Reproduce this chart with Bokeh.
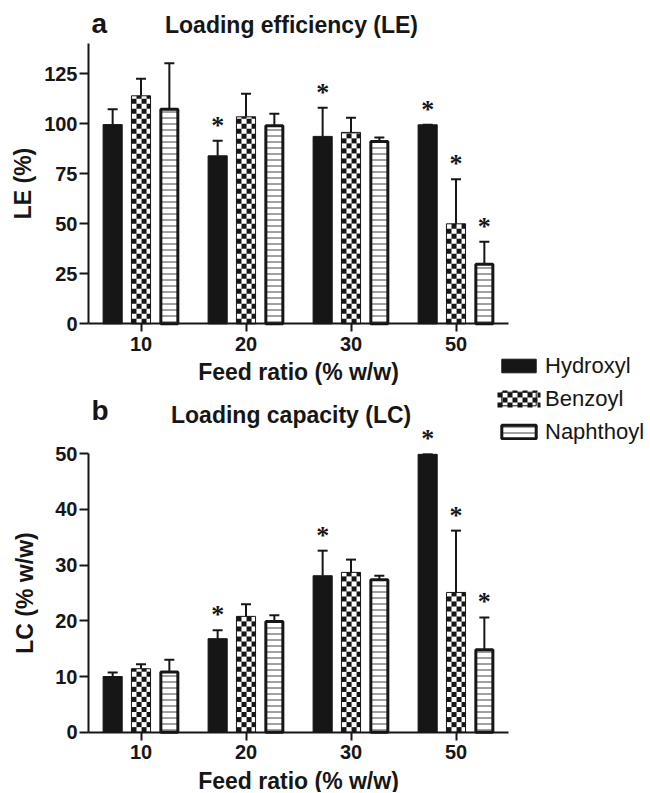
import numpy as np

from bokeh.plotting import figure
from bokeh.models import (Range1d, LinearAxis, Whisker, TeeHead, LabelSet, Label,
                          Legend, LegendItem, ColumnDataSource, FixedTicker)
from bokeh.transform import dodge
from bokeh.embed import file_html
from bokeh.resources import INLINE

# ---------------- data ----------------
feed_ratios = ["10", "20", "30", "50"]
series = ["Hydroxyl", "Benzoyl", "Naphthoyl"]

le_hydroxyl = [99.6, 84.0, 93.7, 99.5]
le_hydroxyl_err = [7.7, 7.5, 14.3, 0.0]
le_benzoyl = [114.0, 103.5, 95.7, 50.0]
le_benzoyl_err = [8.5, 11.5, 7.3, 22.3]
le_naphthoyl = [107.3, 99.0, 91.2, 29.8]
le_naphthoyl_err = [23.0, 6.0, 2.0, 11.2]
le_hydroxyl_sig = [False, True, True, True]
le_benzoyl_sig = [False, False, False, True]
le_naphthoyl_sig = [False, False, False, True]

lc_hydroxyl = [10.0, 16.8, 28.1, 49.9]
lc_hydroxyl_err = [0.7, 1.5, 4.5, 0.0]
lc_benzoyl = [11.4, 20.8, 28.7, 25.1]
lc_benzoyl_err = [0.8, 2.2, 2.3, 11.1]
lc_naphthoyl = [10.8, 19.9, 27.4, 14.8]
lc_naphthoyl_err = [2.2, 1.1, 0.7, 5.8]
lc_hydroxyl_sig = [False, True, True, True]
lc_benzoyl_sig = [False, False, False, True]
lc_naphthoyl_sig = [False, False, False, True]

le_ticks = [0, 25, 50, 75, 100, 125]
lc_ticks = [0, 10, 20, 30, 40, 50]
le_max = 140
lc_max = 50

# ---------------- layout (pixels) ----------------
FIG_W, FIG_H = 648, 792
AXIS_X_PX = 88          # x position of the y axes
PX_PER_X = 105          # one feed-ratio group
LE_ZERO_PX, PX_PER_LE = 323.3, 2.0
LC_ZERO_PX, PX_PER_LC = 731.7, 5.568

X_START = -0.5 - AXIS_X_PX / PX_PER_X
X_END = X_START + FIG_W / PX_PER_X
LE_END = LE_ZERO_PX / PX_PER_LE
LE_START = LE_END - FIG_H / PX_PER_LE
LC_END = LC_ZERO_PX / PX_PER_LC
LC_START = LC_END - FIG_H / PX_PER_LC

LEG_X, LEG_BOTTOM = 497, 444.5
LEG_GLYPH_W, LEG_GLYPH_H, LEG_ITEM_H, LEG_SPACING = 43, 17, 26, 7


def fx(px):
    return X_START + px / PX_PER_X


def fy(py):
    return LE_END - py / PX_PER_LE


# ---------------- styles ----------------
INK = "#161616"
FONT = "Liberation Sans"
CELL = 5


def checker_image(h_px, w_px, cell=CELL):
    yy, xx = np.mgrid[0:h_px, 0:w_px]
    on = ((yy // cell) + (xx // cell)) % 2 == 0
    rgba = np.full((h_px, w_px, 4), 255, dtype=np.uint8)
    rgba[on, 0:3] = 22
    return rgba.view(np.uint32).reshape(h_px, w_px)


STYLES = {
    "Hydroxyl": dict(fill_color=INK, line_color=INK, line_width=1),
    "Benzoyl": dict(fill_color="white", fill_alpha=0, line_color=INK, line_width=1),
    "Naphthoyl": dict(fill_color="white", line_color=INK, line_width=3,
                      hatch_pattern="-", hatch_color="#444444", hatch_scale=6, hatch_weight=1),
}
OFFSETS = {"Hydroxyl": -0.27, "Benzoyl": 0.0, "Naphthoyl": 0.27}
WIDTHS = {"Hydroxyl": 0.182, "Benzoyl": 0.182, "Naphthoyl": 0.162}

x_index = list(range(len(feed_ratios)))

p = figure(width=FIG_W, height=FIG_H, x_range=Range1d(X_START, X_END),
           y_range=Range1d(LE_START, LE_END), x_axis_type=None, y_axis_type=None,
           min_border=0, output_backend="svg", toolbar_location=None)
p.extra_y_ranges = {"lc": Range1d(LC_START, LC_END)}
p.outline_line_color = None


def style_axis(ax, tick_out, label_standoff):
    ax.axis_line_width = 2
    ax.axis_line_color = INK
    ax.major_tick_line_width = 2
    ax.major_tick_line_color = INK
    ax.major_tick_in = 0
    ax.major_tick_out = tick_out
    ax.minor_tick_line_color = None
    ax.major_label_text_font = FONT
    ax.major_label_text_font_size = "20px"
    ax.major_label_text_font_style = "bold"
    ax.major_label_text_color = INK
    ax.axis_label_text_font = FONT
    ax.axis_label_text_font_size = "23px"
    ax.axis_label_text_font_style = "bold"
    ax.axis_label_text_color = INK
    ax.axis_label_standoff = label_standoff


def panel(range_name, px_per_unit, y_max, y_ticks, ylabel, y_label_standoff,
          values, errors, signif):
    rends = {}
    for name in series:
        off = OFFSETS[name]
        top = values[name]
        err = errors[name]
        src = ColumnDataSource(dict(x=x_index, top=top,
                                    upper=[t + e for t, e in zip(top, err)]))
        if name == "Benzoyl":
            # checkerboard fill, drawn as an image inside each bar
            w = WIDTHS[name]
            img_src = ColumnDataSource(dict(
                image=[checker_image(max(1, int(round(t * px_per_unit))),
                                     int(round(w * PX_PER_X))) for t in top],
                x=[i + off - w / 2 for i in x_index], y=[0] * len(top),
                dw=[w] * len(top), dh=top))
            p.image_rgba(image="image", x="x", y="y", dw="dw", dh="dh", source=img_src,
                         y_range_name=range_name, level="underlay")
        r = p.vbar(x=dodge("x", off), top="top", bottom=0, width=WIDTHS[name],
                   source=src, y_range_name=range_name, **STYLES[name])
        rends[name] = r
        p.add_layout(Whisker(source=src, base=dodge("x", off), lower="top", upper="upper",
                             y_range_name=range_name, line_color=INK, line_width=2,
                             upper_head=TeeHead(size=10, line_color=INK, line_width=2),
                             lower_head=None))
        rows = [i for i, s in enumerate(signif[name]) if s]
        star_src = ColumnDataSource(dict(x=[x_index[i] for i in rows],
                                         y=[top[i] + err[i] for i in rows],
                                         mark=["*"] * len(rows)))
        p.add_layout(LabelSet(source=star_src, x=dodge("x", off), y="y", text="mark",
                              y_range_name=range_name, text_align="center",
                              text_baseline="alphabetic", y_offset=7,
                              text_font=FONT, text_font_size="26px",
                              text_font_style="bold", text_color=INK))

    yaxis = LinearAxis(y_range_name=range_name, fixed_location=-0.5, bounds=(0, y_max),
                       ticker=FixedTicker(ticks=y_ticks), axis_label=ylabel)
    style_axis(yaxis, 9, y_label_standoff)
    yaxis.major_label_standoff = 2
    p.add_layout(yaxis, "left")

    xaxis = LinearAxis(y_range_name=range_name, fixed_location=0,
                       bounds=(-0.5, len(feed_ratios) - 0.5),
                       ticker=FixedTicker(ticks=x_index),
                       major_label_overrides={i: r for i, r in zip(x_index, feed_ratios)},
                       axis_label="Feed ratio (% w/w)")
    style_axis(xaxis, 8, 5)
    xaxis.major_label_standoff = 5
    p.add_layout(xaxis, "below")
    return rends


le_r = panel("default", PX_PER_LE, le_max, le_ticks, "LE (%)", 5,
             {"Hydroxyl": le_hydroxyl, "Benzoyl": le_benzoyl, "Naphthoyl": le_naphthoyl},
             {"Hydroxyl": le_hydroxyl_err, "Benzoyl": le_benzoyl_err, "Naphthoyl": le_naphthoyl_err},
             {"Hydroxyl": le_hydroxyl_sig, "Benzoyl": le_benzoyl_sig, "Naphthoyl": le_naphthoyl_sig})
lc_r = panel("lc", PX_PER_LC, lc_max, lc_ticks, "LC (% w/w)", 14,
             {"Hydroxyl": lc_hydroxyl, "Benzoyl": lc_benzoyl, "Naphthoyl": lc_naphthoyl},
             {"Hydroxyl": lc_hydroxyl_err, "Benzoyl": lc_benzoyl_err, "Naphthoyl": lc_naphthoyl_err},
             {"Hydroxyl": lc_hydroxyl_sig, "Benzoyl": lc_benzoyl_sig, "Naphthoyl": lc_naphthoyl_sig})

# panel letters and titles
for text, px, py, size in [("a", 91, 23, "28px"), ("Loading efficiency (LE)", 164.5, 24, "23px"),
                           ("b", 91, 410, "28px"), ("Loading capacity (LC)", 170.5, 414, "23px")]:
    p.add_layout(Label(x=fx(px), y=fy(py), text=text, text_font=FONT, text_font_size=size,
                       text_font_style="bold", text_color=INK, text_baseline="alphabetic"))

# legend
legend = Legend(items=[LegendItem(label=n, renderers=[le_r[n]]) for n in series],
                location=(LEG_X, FIG_H - LEG_BOTTOM), orientation="vertical",
                glyph_width=LEG_GLYPH_W, glyph_height=LEG_GLYPH_H, label_height=LEG_ITEM_H,
                label_standoff=5, spacing=LEG_SPACING,
                padding=0, margin=0, border_line_alpha=0, background_fill_alpha=0,
                label_text_font=FONT, label_text_font_size="22px", label_text_color=INK)
p.add_layout(legend)

# checkerboard for the Benzoyl legend swatch (second entry)
sw_center = LEG_BOTTOM - LEG_ITEM_H * 1.5 - LEG_SPACING
sw_src = ColumnDataSource(dict(image=[checker_image(LEG_GLYPH_H, LEG_GLYPH_W)],
                               x=[fx(LEG_X)], y=[fy(sw_center + LEG_GLYPH_H / 2)],
                               dw=[LEG_GLYPH_W / PX_PER_X], dh=[LEG_GLYPH_H / PX_PER_LE]))
p.image_rgba(image="image", x="x", y="y", dw="dw", dh="dh", source=sw_src, level="underlay")

open("out.html", "w").write(file_html(p, INLINE))
